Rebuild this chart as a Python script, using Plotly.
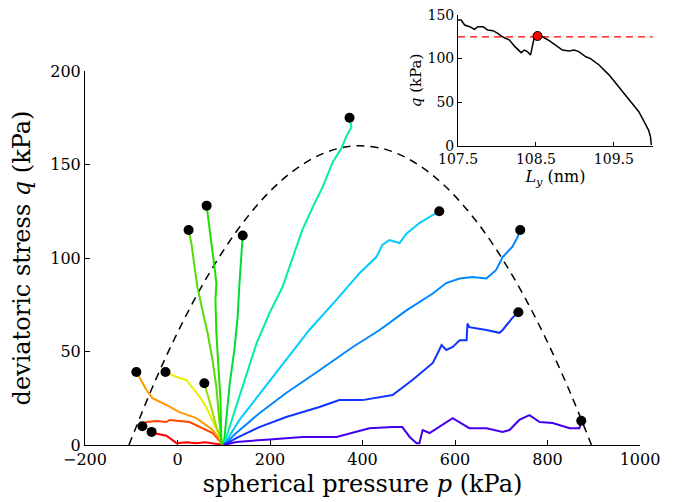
import plotly.graph_objects as go

# ---------------- data ----------------
red_p = [100, 80, 60, 40, 20, -2, -11, -24, -45, -56]
red_q = [0, 0.8, 1.5, 1, 1.5, 1, 2.7, 5, 6, 7]

orangered_p = [100, 97, 76, 41, 26, -17, -24, -45, -67, -76]
orangered_q = [0, 0.5, 6.4, 10.7, 12.3, 13.4, 12.3, 12.8, 12.3, 10]

orange_p = [100, 76, 41, 4, -24, -54, -67, -82, -89]
orange_q = [0, 8, 14.4, 17.6, 21.4, 25, 29.4, 36, 39]

yellow_p = [100, 76, 62, 48, 32, 19, -2, -17, -26]
yellow_q = [0, 13.4, 20.3, 25.7, 31, 34.8, 36.4, 38, 39]

ygreen_p = [100, 84, 73, 62, 58]
ygreen_q = [0, 9.6, 20, 29.4, 33]

lime_p = [100, 95, 89, 84, 76, 65, 54, 43, 37, 30, 24]
lime_q = [0, 1, 17, 31, 45, 60, 72, 84.5, 95, 108, 115]

green_p = [100, 95, 93, 89, 84, 82, 84, 80, 73, 65, 63]
green_q = [0, 1, 24, 42, 60, 77.5, 86.6, 95, 110, 124, 128]

green2_p = [100, 106, 113, 123, 130, 134, 138, 141]
green2_q = [0, 15, 33, 51, 68.5, 86.6, 104, 112]

teal_p = [100, 135, 171, 199, 227, 253, 270, 292, 314, 335, 355, 365, 376, 372]
teal_q = [0, 27, 54.5, 70.6, 84.5, 103, 115, 127, 138, 151, 159, 165, 170, 175]

cyan_p = [100, 134, 184, 235, 285, 343, 394, 430, 443, 458, 480, 495, 523, 552, 566]
cyan_q = [0, 13.4, 29.4, 45.5, 61.5, 77.5, 92, 100.5, 107, 109.6, 108, 113, 118.7, 123, 125]

sky_p = [100, 127, 177, 235, 307, 379, 437, 495, 552, 581, 610, 638, 668, 689, 703, 724, 735, 741]
sky_q = [0, 6.4, 17, 27.8, 40, 52.4, 61.5, 72, 81, 86.6, 89, 89.8, 89, 93.6, 100.5, 106, 111, 115]

blue_p = [100, 127, 177, 235, 307, 350, 400, 465, 508, 552, 566, 571, 581, 595, 610,
          625, 627, 631, 668, 696, 703, 724, 737]
blue_q = [0, 3.7, 9.6, 15, 20.3, 24, 24, 26.7, 34.8, 43.9, 50.8, 53.5, 50.8, 52.4, 56,
          56, 65, 63, 61.5, 60, 61.5, 68, 71]

violet_p = [100, 127, 199, 270, 344, 415, 465, 486, 502, 517, 523, 530, 545, 566, 595,
            631, 668, 703, 718, 739, 761, 783, 811, 848, 869, 873]
violet_q = [0, 1.6, 3, 4.3, 4.3, 9, 9.6, 9.6, 4.3, 1, 1, 8, 6.4, 9.6, 14.4,
            9, 9, 7, 8, 13.4, 16, 12.3, 11.8, 9, 9, 13]

curve_colors = ["#ff0000", "#ff4400", "#ff9900", "#eeee00", "#99dd00", "#55dd00", "#22dd00",
                "#00dd33", "#00eeaa", "#00ccff", "#0088ff", "#1133ff", "#4400ee"]

envelope_p = [-105, -50, 0, 50, 100, 150, 200, 250, 300, 350, 395, 450, 500, 550, 600,
              650, 700, 750, 800, 850, 895]
envelope_q = [0, 33.3, 60.1, 83.8, 104.3, 121.6, 135.7, 146.5, 154.2, 158.7, 160, 158.1,
              152.9, 144.6, 133.1, 118.4, 100.5, 79.3, 55, 27.5, 0]

inset_L = [107.5, 107.54, 107.585, 107.65, 107.71, 107.755, 107.82, 107.88, 107.95, 108.01,
           108.07, 108.16, 108.23, 108.31, 108.35, 108.39, 108.43, 108.46, 108.48, 108.52,
           108.585, 108.67, 108.755, 108.84, 108.925, 108.99, 109.05, 109.14, 109.2, 109.31,
           109.44, 109.56, 109.69, 109.82, 109.9, 109.945, 109.97, 109.98]
inset_q = [144.3, 144.3, 138.5, 136.6, 133.6, 136.6, 136.6, 132.8, 132, 129,
           125, 121.3, 113.7, 106.8, 109.8, 108, 104, 117.5, 125, 125.9,
           125, 120.5, 115.6, 109.8, 108.7, 109.8, 108, 102, 100, 92.6,
           81, 67.7, 54.3, 39, 25.6, 18, 10.3, 0.8]
inset_peak_L = [108.52]
inset_peak_q = [125.9]
inset_ref_q = 125

# ---------------- figure ----------------
FONT = "DejaVu Serif"
fig = go.Figure()

curves = [(red_p, red_q), (orangered_p, orangered_q), (orange_p, orange_q),
          (yellow_p, yellow_q), (ygreen_p, ygreen_q), (lime_p, lime_q),
          (green_p, green_q), (green2_p, green2_q), (teal_p, teal_q),
          (cyan_p, cyan_q), (sky_p, sky_q), (blue_p, blue_q), (violet_p, violet_q)]

fig.add_trace(go.Scatter(x=envelope_p, y=envelope_q, mode="lines",
                         line=dict(color="black", width=1.5, dash="8px,6px", shape="spline"),
                         xaxis="x", yaxis="y", showlegend=False, hoverinfo="skip"))

for (p, q), c in zip(curves, curve_colors):
    fig.add_trace(go.Scatter(x=p, y=q, mode="lines", line=dict(color=c, width=2),
                             xaxis="x", yaxis="y", showlegend=False))

fig.add_trace(go.Scatter(x=[p[-1] for p, q in curves], y=[q[-1] for p, q in curves],
                         mode="markers", marker=dict(color="black", size=10),
                         xaxis="x", yaxis="y", showlegend=False))

# inset
fig.add_trace(go.Scatter(x=[107.5, 110.0], y=[inset_ref_q, inset_ref_q], mode="lines",
                         line=dict(color="red", width=1.2, dash="7px,5px"),
                         xaxis="x2", yaxis="y2", showlegend=False))
fig.add_trace(go.Scatter(x=inset_L, y=inset_q, mode="lines",
                         line=dict(color="black", width=1.5),
                         xaxis="x2", yaxis="y2", showlegend=False))
fig.add_trace(go.Scatter(x=inset_peak_L, y=inset_peak_q, mode="markers",
                         marker=dict(color="red", size=9, line=dict(color="black", width=1)),
                         xaxis="x2", yaxis="y2", showlegend=False))

axis_common = dict(showline=True, linecolor="black", linewidth=1, ticks="inside",
                   tickcolor="black", showgrid=False, zeroline=False, mirror=False,
                   automargin=False, ticklabeloverflow="allow")

fig.update_layout(
    width=679, height=494,
    margin=dict(l=77, r=29, t=5, b=57),
    paper_bgcolor="white", plot_bgcolor="white",
    font=dict(family=FONT, color="black"),
    xaxis=dict(domain=[0, 0.9686], range=[-200, 1000], tickvals=[-200, 0, 200, 400, 600, 800, 1000],
               ticklen=5, tickfont=dict(size=16), anchor="y",
               title=dict(text="spherical pressure <i>p</i> (kPa)", font=dict(size=24), standoff=6),
               **axis_common),
    yaxis=dict(domain=[0, 0.8657], range=[0, 200], tickvals=[0, 50, 100, 150, 200],
               ticklen=5, tickfont=dict(size=16), anchor="x",
               title=dict(text="deviatoric stress <i>q</i> (kPa)", font=dict(size=24), standoff=15),
               **axis_common),
    xaxis2=dict(domain=[0.651, 0.991], range=[107.5, 110.0], tickvals=[107.5, 108.5, 109.5],
                ticktext=["107.5", "108.5", "109.5"],
                ticklen=4, tickfont=dict(size=14), anchor="y2",
                title=dict(text="<i>L</i><sub><i>y</i></sub> (nm)", font=dict(size=16), standoff=5),
                **axis_common),
    yaxis2=dict(domain=[0.6928, 0.9954], range=[0, 150], tickvals=[0, 50, 100, 150],
                ticktext=["0", "50", "100", "150"],
                ticklen=4, tickfont=dict(size=14), anchor="x2",
                title=dict(text="<i>q</i> (kPa)", font=dict(size=15), standoff=2),
                **axis_common),
)

fig.write_html("out.html")
